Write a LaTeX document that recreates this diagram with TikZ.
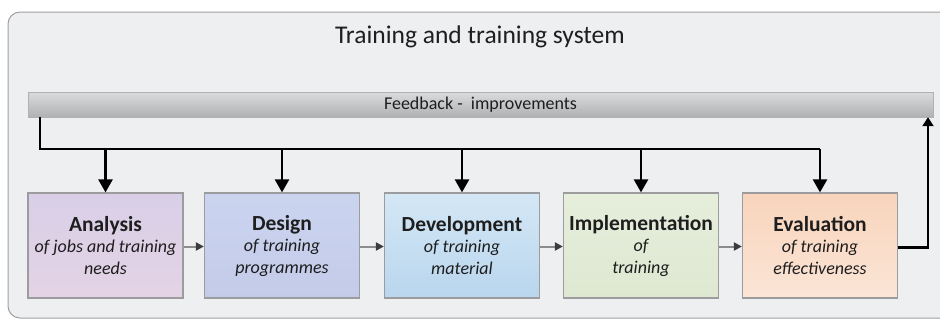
\documentclass[tikz,border=0pt]{standalone}
\usepackage{fontspec}
\setmainfont{Carlito}
\usetikzlibrary{arrows.meta}

\definecolor{panel}{HTML}{EEEFF1}
\definecolor{panelline}{HTML}{A0A0A2}
\definecolor{barlight}{HTML}{DADBDD}
\definecolor{bardark}{HTML}{B0B1B3}
\definecolor{boxline}{HTML}{9C9C9E}
\definecolor{stepgray}{HTML}{8C8C8C}
\definecolor{steptip}{HTML}{3C3C3C}
\definecolor{ink}{HTML}{1E1E1E}
\definecolor{anTop}{HTML}{D8CFE7}
\definecolor{anBot}{HTML}{E4D3E5}
\definecolor{deTop}{HTML}{CBD4EF}
\definecolor{deBot}{HTML}{C3CBE9}
\definecolor{dvTop}{HTML}{D4E7F5}
\definecolor{dvBot}{HTML}{B9D6EE}
\definecolor{imTop}{HTML}{E6EEDC}
\definecolor{imBot}{HTML}{DEE8D1}
\definecolor{evTop}{HTML}{F8D4BC}
\definecolor{evBot}{HTML}{FBE5D6}

\begin{document}
\begin{tikzpicture}[
		x=1pt, y=-1pt,
		every node/.style={inner sep=0pt, align=center, text=ink},
		phase/.style={rectangle, draw=boxline, line width=1.2pt, minimum width=155pt, minimum height=105pt,
			font=\fontsize{18}{21.5}\selectfont\itshape},
		fbarrow/.style={line width=2.4pt, -{Triangle[width=14pt,length=13pt]}},
		retarrow/.style={line width=2.4pt, -{Triangle[width=11pt,length=9pt]}},
		steparrow/.style={draw=stepgray, line width=2pt, -{Triangle[width=8pt,length=8pt,color=steptip]}}
	]
  \clip (0,0) rectangle (940,322);
  \draw[draw=panelline, fill=panel, line width=1pt, rounded corners=12pt] (8,12) rectangle (960,318);
  \node (title) [font=\fontsize{25.5}{30}\selectfont] at (480,37) {Training and training system};
  \node (fb) [rectangle, draw=bardark, top color=barlight, bottom color=bardark, minimum width=905pt,
    minimum height=25pt, font=\fontsize{18}{20}\selectfont] at (480.5,104.5) {Feedback -\ \ improvements};

  \node (an) [phase, top color=anTop, bottom color=anBot] at (105.5,245.5)
    {{\upshape\bfseries\fontsize{21.5}{25}\selectfont Analysis}\\of jobs and training\\needs};
  \node (de) [phase, top color=deTop, bottom color=deBot] at (282,245.5)
    {{\upshape\bfseries\fontsize{21.5}{25}\selectfont Design}\\of training\\programmes};
  \node (dv) [phase, top color=dvTop, bottom color=dvBot] at (462,245.5)
    {{\upshape\bfseries\fontsize{21.5}{25}\selectfont Development}\\of training\\material};
  \node (im) [phase, top color=imTop, bottom color=imBot] at (641,245.5)
    {{\upshape\bfseries\fontsize{21.5}{25}\selectfont Implementation}\\of\\training};
  \node (ev) [phase, top color=evTop, bottom color=evBot] at (820,245.5)
    {{\upshape\bfseries\fontsize{21.5}{25}\selectfont Evaluation}\\of training\\effectiveness};

  \coordinate (bus) at (40,149);
  \coordinate (ret) at (928,0);
  \draw[line width=2.4pt] (fb.south -| bus) |- (bus -| ev.north);
  \foreach \b in {an,de,dv,im,ev}
    \draw[fbarrow] (bus -| \b.north) -- (\b.north);
  \draw[retarrow] ([yshift=-2pt]ev.east) -| (fb.south -| ret);

  \foreach \a/\b in {an/de,de/dv,dv/im,im/ev}
    \draw[steparrow] ([yshift=-1pt]\a.east) -- ([yshift=-1pt]\b.west);
\end{tikzpicture}
\end{document}
